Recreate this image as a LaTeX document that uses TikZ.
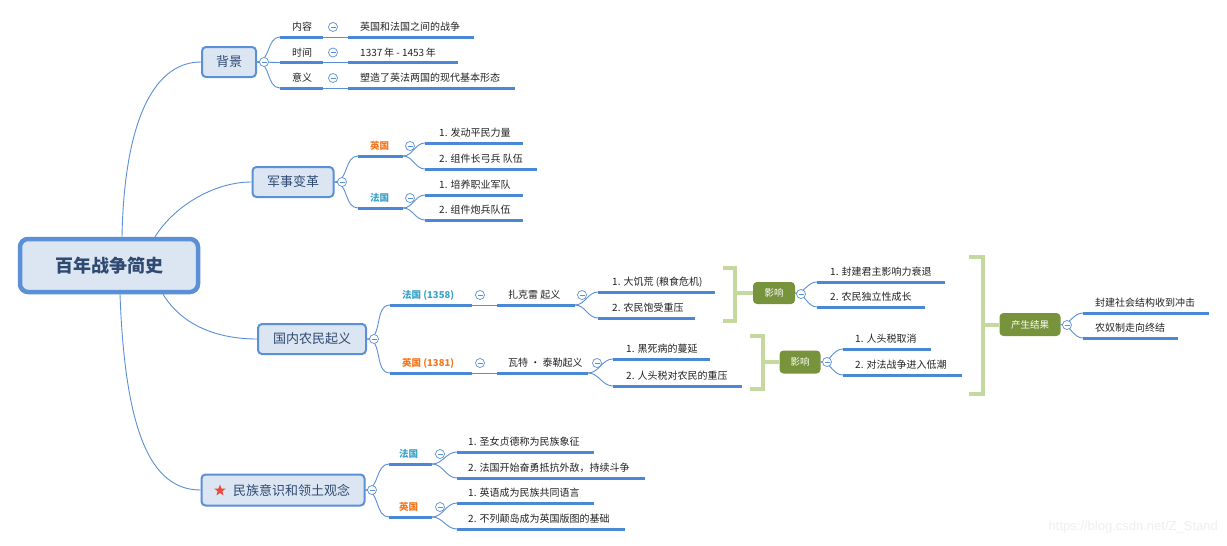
\documentclass[tikz,border=0pt]{standalone}
\usepackage{fontspec}
\setmainfont{Noto Sans CJK SC}
\newfontfamily\wmfont{Liberation Sans}
\usetikzlibrary{shapes.geometric}
\definecolor{ublue}{HTML}{4A87D6}
\definecolor{lblue}{HTML}{5B8FD6}
\definecolor{mfill}{HTML}{DCE5F2}
\definecolor{mtext}{HTML}{2E4A72}
\definecolor{engor}{HTML}{F5761F}
\definecolor{frteal}{HTML}{3AA3C9}
\definecolor{olivec}{HTML}{77933C}
\definecolor{brgreen}{HTML}{C5D89D}
\definecolor{starred}{HTML}{E84C3D}
\definecolor{wmc}{HTML}{EFEFEF}
\definecolor{leaftext}{HTML}{222222}
\tikzset{
  conn/.style={draw=lblue, line width=0.9pt},
  ul/.style={draw=ublue, line width=3pt},
  leaf/.style={font=\fontsize{10}{12}\selectfont, text=leaftext, inner sep=0pt, anchor=west},
  engl/.style={font=\fontsize{9.5}{11}\selectfont\bfseries, text=engor},
  frl/.style={font=\fontsize{9.5}{11}\selectfont\bfseries, text=frteal},
  mainbox/.style={draw=lblue, line width=2pt, fill=mfill, rounded corners=4pt, text=mtext, font=\fontsize{13}{15}\selectfont, inner sep=0pt},
  tog/.style={circle, draw=lblue, fill=white, line width=0.7pt, minimum size=9pt, inner sep=0pt,
    path picture={\draw[lblue, line width=0.7pt] ([xshift=-2.5pt]path picture bounding box.center) -- ([xshift=2.5pt]path picture bounding box.center);}},
  effect/.style={fill=olivec, rounded corners=4pt, text=white, font=\fontsize{9.5}{11}\selectfont, inner sep=0pt},
  bracketline/.style={draw=brgreen, line width=4pt},
}
\newcommand\leafitem[7][]{%
  \coordinate (#2-l) at (#3,#5);
  \coordinate (#2-r) at (#4,#5);
  \draw[ul] (#2-l) -- (#2-r);
  \node[leaf,#1] (#2) at (#6,#5-10) {#7};
}
\begin{document}
\begin{tikzpicture}[x=1pt,y=-1pt]
\useasboundingbox (0,0) rectangle (1227,546);
\fill[white] (0,0) rectangle (1227,546);

% main nodes
\node[mainbox, line width=4.5pt, rounded corners=8pt, minimum width=178pt, minimum height=53pt, font=\fontsize{18}{20}\selectfont\bfseries] (root) at (109,265.5) {百年战争简史};
\node[mainbox, minimum width=54pt, minimum height=30pt] (bg) at (229,62) {背景};
\node[mainbox, minimum width=81pt, minimum height=30pt] (mil) at (293,182) {军事变革};
\node[mainbox, minimum width=108pt, minimum height=30pt] (pe) at (312,339) {国内农民起义};
\node[mainbox, minimum width=163pt, minimum height=31pt] (na) at (283,490) {\hspace*{17pt}民族意识和领土观念};
\node[star, star points=5, star point ratio=2.4, fill=starred, minimum size=12pt, inner sep=0pt] (star) at (220,490.5) {};

% root connectors
\draw[conn] ([xshift=13pt]root.north) .. controls (124,130) and (150,62) .. (bg.west);
\draw[conn] ([xshift=46pt]root.north) .. controls (175,205) and (215,182) .. (mil.west);
\draw[conn] ([xshift=54pt]root.south) .. controls (185,330) and (225,339) .. (pe.west);
\draw[conn] ([xshift=11pt]root.south) .. controls (125,430) and (150,490) .. (na.west);

% 背景
\leafitem{nr}{280}{323}{37}{292}{内容}
\leafitem{nrv}{348}{474}{37}{360}{英国和法国之间的战争}
\leafitem{sj}{280}{323}{62.5}{292}{时间}
\leafitem{sjv}{348}{458}{62.5}{360}{1337\,年 - 1453\,年}
\leafitem{yy}{280}{323}{88}{292}{意义}
\leafitem{yyv}{348}{515}{88}{360}{塑造了英法两国的现代基本形态}
\foreach \c in {nr,sj,yy} \draw[conn] (bg.east) to[out=0,in=180] (\c-l);
\draw[conn] (nr-r) -- (nrv-l);
\draw[conn] (sj-r) -- (sjv-l);
\draw[conn] (yy-r) -- (yyv-l);

% 军事变革
\leafitem[engl]{men}{358}{403}{156}{370}{英国}
\leafitem[frl]{mfr}{358}{403}{208}{370}{法国}
\leafitem{m1}{425}{523}{143}{439}{1. 发动平民力量}
\leafitem{m2}{425}{537}{169}{439}{2. 组件长弓兵 队伍}
\leafitem{m3}{425}{523}{195}{439}{1. 培养职业军队}
\leafitem{m4}{425}{523}{220}{439}{2. 组件炮兵队伍}
\draw[conn] (mil.east) to[out=0,in=180] (men-l);
\draw[conn] (mil.east) to[out=0,in=180] (mfr-l);
\draw[conn] (men-r) to[out=0,in=180] (m1-l);
\draw[conn] (men-r) to[out=0,in=180] (m2-l);
\draw[conn] (mfr-r) to[out=0,in=180] (m3-l);
\draw[conn] (mfr-r) to[out=0,in=180] (m4-l);

% 国内农民起义
\leafitem[frl]{p1}{390}{472}{305}{402}{法国 (1358)}
\leafitem{p1a}{497}{575}{305}{508}{扎克雷 起义}
\leafitem{p1a1}{598}{715}{292}{612}{1. 大饥荒 (粮食危机)}
\leafitem{p1a2}{598}{695}{318}{612}{2. 农民饱受重压}
\leafitem[engl]{p2}{390}{472}{373}{402}{英国 (1381)}
\leafitem{p2a}{497}{588}{373}{508}{瓦特 · 泰勒起义}
\leafitem{p2a1}{613}{710}{359}{626}{1. 黑死病的蔓延}
\leafitem{p2a2}{613}{742}{386}{626}{2. 人头税对农民的重压}
\draw[conn] (pe.east) to[out=0,in=180] (p1-l);
\draw[conn] (pe.east) to[out=0,in=180] (p2-l);
\draw[conn] (p1-r) -- (p1a-l);
\draw[conn] (p2-r) -- (p2a-l);
\draw[conn] (p1a-r) to[out=0,in=180] (p1a1-l);
\draw[conn] (p1a-r) to[out=0,in=180] (p1a2-l);
\draw[conn] (p2a-r) to[out=0,in=180] (p2a1-l);
\draw[conn] (p2a-r) to[out=0,in=180] (p2a2-l);

% 影响 / 产生结果
\node[effect, minimum width=42pt, minimum height=22pt] (ef1) at (774,293) {影响};
\node[effect, minimum width=41pt, minimum height=23pt] (ef2) at (800,362) {影响};
\node[effect, minimum width=61pt, minimum height=23pt] (res) at (1030,324.5) {产生结果};
\draw[bracketline] (723,268) -- (735,268) -- (735,321) -- (723,321);
\draw[bracketline] (750,336) -- (763,336) -- (763,389) -- (750,389);
\draw[bracketline] (969,257) -- (983,257) -- (983,394) -- (969,394);
\coordinate (b1) at (735,293);
\coordinate (b2) at (763,362);
\coordinate (b3) at (983,324.5);
\draw[bracketline] (b1) -- (ef1.west);
\draw[bracketline] (b2) -- (ef2.west);
\draw[bracketline] (b3) -- (res.west);
\leafitem{e1a}{817}{945}{282}{830}{1. 封建君主影响力衰退}
\leafitem{e1b}{817}{925}{307}{830}{2. 农民独立性成长}
\leafitem{e2a}{843}{931}{349}{855}{1. 人头税取消}
\leafitem{e2b}{843}{962}{375}{855}{2. 对法战争进入低潮}
\leafitem{r1}{1083}{1209}{313}{1095}{封建社会结构收到冲击}
\leafitem{r2}{1083}{1178}{338}{1095}{农奴制走向终结}
\draw[conn] (ef1.east) to[out=0,in=180] (e1a-l);
\draw[conn] (ef1.east) to[out=0,in=180] (e1b-l);
\draw[conn] (ef2.east) to[out=0,in=180] (e2a-l);
\draw[conn] (ef2.east) to[out=0,in=180] (e2b-l);
\draw[conn] (res.east) to[out=0,in=180] (r1-l);
\draw[conn] (res.east) to[out=0,in=180] (r2-l);

% 民族意识和领土观念
\leafitem[frl]{nfr}{389}{432}{464}{399}{法国}
\leafitem{nf1}{457}{594}{452}{468}{1. 圣女贞德称为民族象征}
\leafitem{nf2}{457}{645}{478}{468}{2. 法国开始奋勇抵抗外敌，持续斗争}
\leafitem[engl]{nen}{389}{432}{517}{399}{英国}
\leafitem{ne1}{457}{594}{503}{468}{1. 英语成为民族共同语言}
\leafitem{ne2}{457}{625}{529}{468}{2. 不列颠岛成为英国版图的基础}
\draw[conn] (na.east) to[out=0,in=180] (nfr-l);
\draw[conn] (na.east) to[out=0,in=180] (nen-l);
\draw[conn] (nfr-r) to[out=0,in=180] (nf1-l);
\draw[conn] (nfr-r) to[out=0,in=180] (nf2-l);
\draw[conn] (nen-r) to[out=0,in=180] (ne1-l);
\draw[conn] (nen-r) to[out=0,in=180] (ne2-l);

% toggles
\node[tog] (t1) at (264,62) {};
\node[tog] (t2) at (333,27) {};
\node[tog] (t3) at (333,52.5) {};
\node[tog] (t4) at (333,78) {};
\node[tog] (t5) at (342,182) {};
\node[tog] (t6) at (410,146) {};
\node[tog] (t7) at (410,198) {};
\node[tog] (t8) at (374,339) {};
\node[tog] (t9) at (480,295) {};
\node[tog] (t10) at (582,295) {};
\node[tog] (t11) at (480,363) {};
\node[tog] (t12) at (597,363) {};
\node[tog] (t13) at (801,294) {};
\node[tog] (t14) at (827,362) {};
\node[tog] (t15) at (1067,325) {};
\node[tog] (t16) at (372,490) {};
\node[tog] (t17) at (440,454) {};
\node[tog] (t18) at (440,507) {};

% watermark
\node[font=\wmfont\fontsize{13}{15}\selectfont, text=wmc, anchor=east, inner sep=0pt] (wmark) at (1218,527) {https://blog.csdn.net/Z\_Stand};
\end{tikzpicture}
\end{document}
